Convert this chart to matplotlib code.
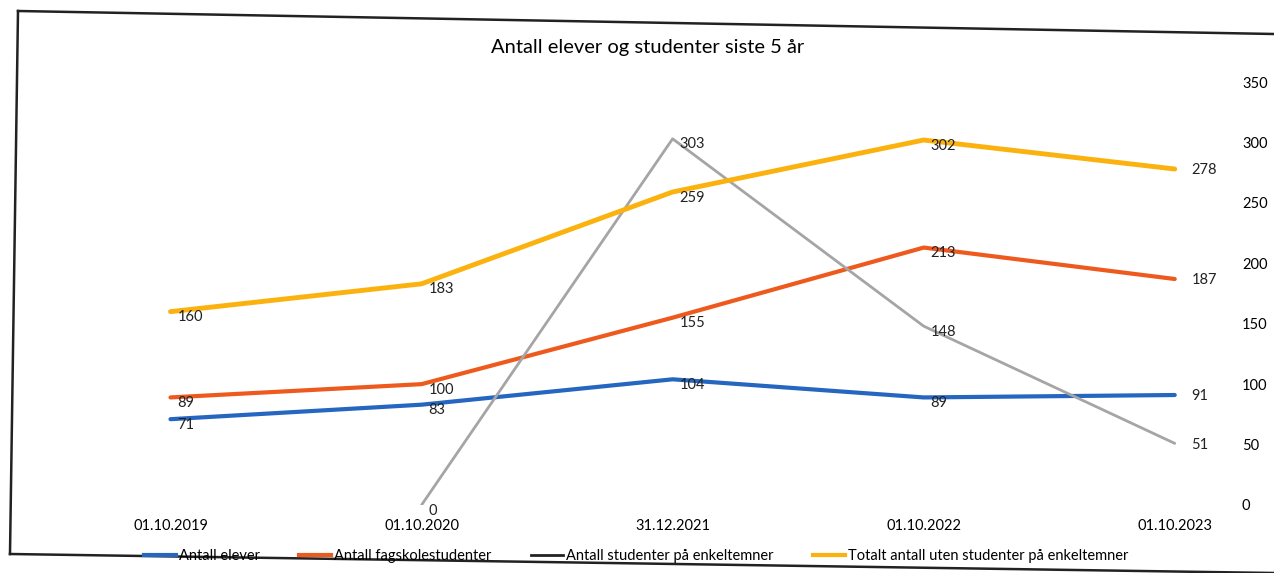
import matplotlib
matplotlib.use('Agg')
import matplotlib.pyplot as plt
from matplotlib.lines import Line2D

plt.rcParams['font.family'] = ['Lato', 'DejaVu Sans']

dates = ["01.10.2019", "01.10.2020", "31.12.2021", "01.10.2022", "01.10.2023"]
elever = [71, 83, 104, 89, 91]
fagskole = [89, 100, 155, 213, 187]
enkeltemner = [None, 0, 303, 148, 51]
totalt = [160, 183, 259, 302, 278]

names = ["Antall elever", "Antall fagskolestudenter",
         "Antall studenter på enkeltemner",
         "Totalt antall uten studenter på enkeltemner"]

C_BLUE = '#2566c0'
C_ORANGE = '#ee5a1e'
C_GRAY = '#a5a5a5'
C_YELLOW = '#fbb20f'

W, H = 1274, 573
fig = plt.figure(figsize=(W / 100, H / 100), dpi=100)

# plot area in pixel coords of the reference
left_px, right_px, top_px, bot_px = 60, 1235, 82, 505
ax = fig.add_axes([left_px / W, 1 - bot_px / H,
                   (right_px - left_px) / W, (bot_px - top_px) / H])

x = list(range(len(dates)))
series = [(elever, C_BLUE, 3), (fagskole, C_ORANGE, 3),
          (enkeltemner, C_GRAY, 2), (totalt, C_YELLOW, 3.5)]

for vals, col, lw in series:
    xs = [i for i, v in zip(x, vals) if v is not None]
    ys = [v for v in vals if v is not None]
    ax.plot(xs, ys, color=col, lw=lw, solid_capstyle='round', solid_joinstyle='round')
    for i, v in zip(xs, ys):
        last = i == len(dates) - 1
        ax.annotate(str(v), (i, v), xytext=(12 if last else 5, -1 if last else -4),
                    textcoords='offset points', ha='left', va='center',
                    fontsize=10.5, color='#222222')

ax.set_xlim(-0.44, 4.24)
ax.set_ylim(0, 350)
ax.set_xticks(x)
ax.set_xticklabels(dates, fontsize=10.5)
ax.set_yticks(range(0, 351, 50))
ax.yaxis.tick_right()
ax.tick_params(axis='y', labelsize=10.5, length=0, pad=5)
ax.tick_params(axis='x', length=0, pad=10)
for s in ax.spines.values():
    s.set_visible(False)

fig.text(648 / W, 1 - 48 / H, "Antall elever og studenter siste 5 år",
         ha='center', va='center', fontsize=14.5)

handles = [Line2D([], [], color=C_BLUE, lw=3),
           Line2D([], [], color=C_ORANGE, lw=3),
           Line2D([], [], color='#222222', lw=2),
           Line2D([], [], color=C_YELLOW, lw=3)]
fig.legend(handles, names, loc='center', bbox_to_anchor=(636 / W, 1 - 556 / H),
           ncol=4, frameon=False, fontsize=10.5, handlelength=2.2,
           handletextpad=0.2, columnspacing=2.7)

# scanned chart border (slightly tilted)
frame = [((18, 11), (1274, 34)), ((18, 11), (10, 554)), ((10, 554), (1274, 573))]
for (x0, y0), (x1, y1) in frame:
    fig.add_artist(Line2D([x0 / W, x1 / W], [1 - y0 / H, 1 - y1 / H],
                          transform=fig.transFigure, color='#222222', lw=1.8))

fig.savefig('out.png', dpi=100)
